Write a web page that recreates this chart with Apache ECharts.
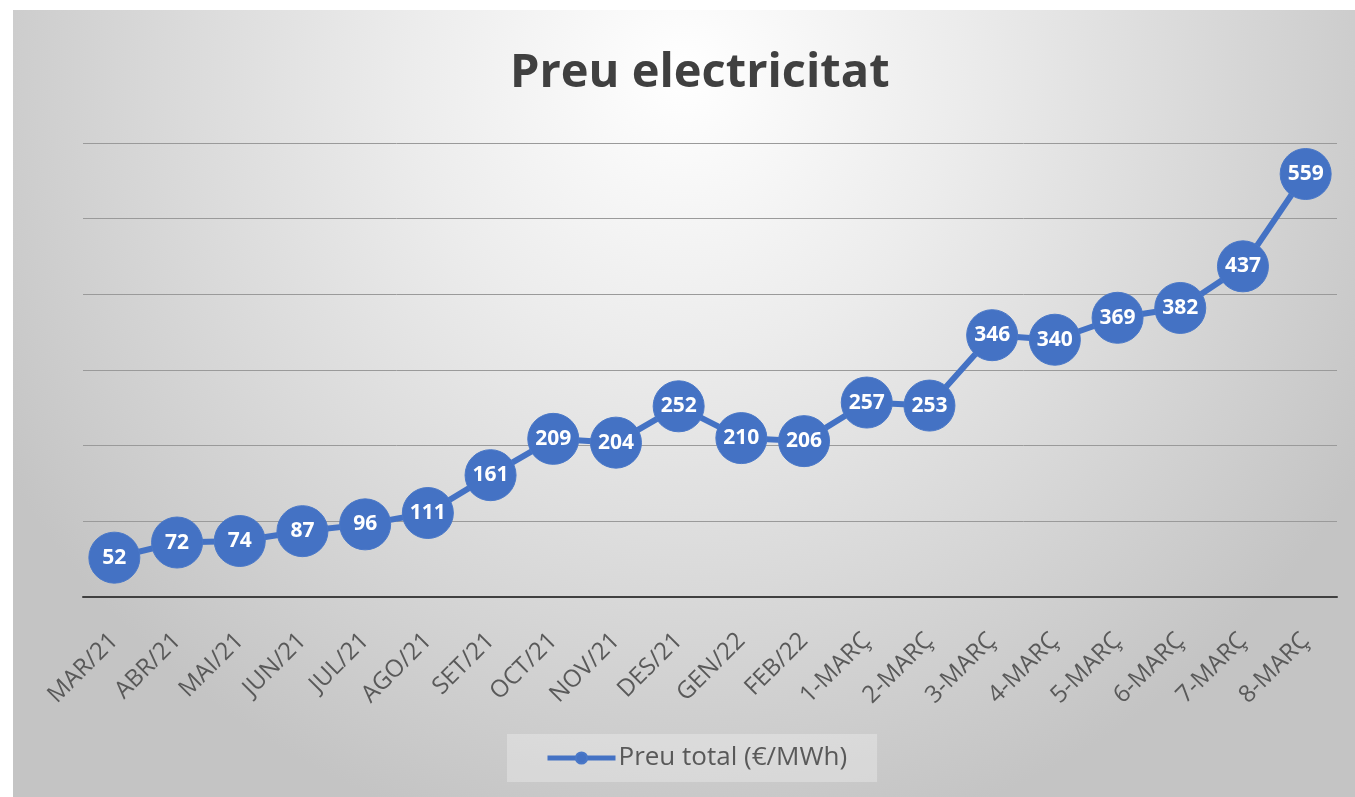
<!DOCTYPE html>
<html>
<head>
<meta charset="utf-8">
<script src="https://cdn.jsdelivr.net/npm/echarts@6/dist/echarts.min.js"></script>
<style>
html,body{margin:0;padding:0;background:#ffffff;}
#chart{position:absolute;left:13px;top:10px;width:1342px;height:787px;}
</style>
</head>
<body>
<div id="chart"></div>
<script>
const categories = ['MAR/21','ABR/21','MAI/21','JUN/21','JUL/21','AGO/21','SET/21','OCT/21','NOV/21','DES/21','GEN/22','FEB/22','1-MARÇ','2-MARÇ','3-MARÇ','4-MARÇ','5-MARÇ','6-MARÇ','7-MARÇ','8-MARÇ'];
const preuTotal = [52,72,74,87,96,111,161,209,204,252,210,206,257,253,346,340,369,382,437,559];
const seriesName = 'Preu total (€/MWh)';
const titleText = 'Preu electricitat';

const chart = echarts.init(document.getElementById('chart'));
chart.setOption({
  backgroundColor: {
    type: 'radial', x: 0.5, y: 0.08, r: 1.0,
    colorStops: [{offset: 0, color: '#ffffff'}, {offset: 0.35, color: '#ececec'}, {offset: 1, color: '#c4c4c4'}]
  },
  textStyle: {fontFamily: 'Open Sans'},
  title: {
    text: titleText, left: 492, top: 35,
    textStyle: {fontSize: 47, fontWeight: 'bold', color: '#404040', fontFamily: 'Open Sans'}
  },
  legend: {
    bottom: 15, left: 494,
    backgroundColor: 'rgba(255,255,255,0.28)',
    padding: [11, 30, 11, 38],
    itemWidth: 68, itemHeight: 14, itemGap: 10,
    lineStyle: {width: 5},
    textStyle: {fontSize: 26, color: '#595959', padding: [0, 0, 0, -2]},
    data: [seriesName]
  },
  grid: {left: 70, right: 18, top: 133, bottom: 200},
  xAxis: {
    type: 'category', data: categories, boundaryGap: true,
    axisLine: {lineStyle: {color: '#404040', width: 2}},
    axisTick: {show: false},
    axisLabel: {rotate: 45, color: '#595959', fontSize: 24, margin: 40, interval: 0}
  },
  yAxis: {
    type: 'value', min: 0, max: 600, interval: 100,
    axisLabel: {show: false}, axisLine: {show: false}, axisTick: {show: false},
    splitLine: {lineStyle: {color: '#9a9a9a', width: 1}}
  },
  series: [{
    name: seriesName, type: 'line', data: preuTotal,
    symbol: 'circle', symbolSize: 51,
    lineStyle: {color: '#4472C4', width: 6},
    itemStyle: {color: '#4472C4', borderColor: '#4a78c8', borderWidth: 1},
    label: {show: true, position: 'inside', color: '#ffffff', fontSize: 21, fontWeight: 'bold'},
    emphasis: {disabled: true}
  }]
});
</script>
</body>
</html>
